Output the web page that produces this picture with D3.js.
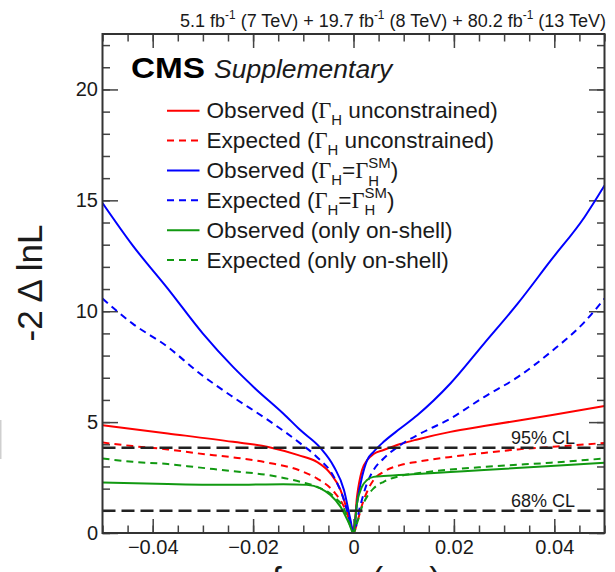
<!DOCTYPE html>
<html><head><meta charset="utf-8">
<script src="https://cdn.jsdelivr.net/npm/d3@7/dist/d3.min.js"></script>
<style>body{margin:0;background:#fff}svg{display:block}text{white-space:pre}</style>
</head><body><svg id="c" width="615" height="572"></svg>
<script>
// ---------- data ----------
const xTickValues = [-0.04, -0.02, 0, 0.02, 0.04];
const xTickLabels = ["\u22120.04", "\u22120.02", "0", "0.02", "0.04"];
const yTickValues = [0, 5, 10, 15, 20];
const yTickLabels = ["0", "5", "10", "15", "20"];
const clLevels = [1, 3.84];
const clLabels = ["68% CL", "95% CL"];

const obsUnconstrained = [[-0.05,4.86],[-0.037,4.49],[-0.024,4.11],[-0.017,3.88],[-0.011,3.51],[-0.0073,3.21],[-0.0046,2.69],[-0.0026,1.94],[-0.0009,0.73],[0,0],
  [0.0007,1.64],[0.0017,2.84],[0.0027,3.28],[0.004,3.56],[0.006,3.74],[0.0093,4.01],[0.0127,4.22],[0.0193,4.56],[0.026,4.82],[0.0393,5.31],[0.05,5.73]];
const expUnconstrained = [[-0.05,4.08],[-0.044,3.92],[-0.037,3.77],[-0.031,3.59],[-0.024,3.41],[-0.017,3.17],[-0.0106,2.81],[-0.0073,2.46],[-0.0039,1.86],[-0.0019,1.19],[-0.0006,0.44],[0,0],
  [0.0007,0.44],[0.0017,1.26],[0.0027,1.86],[0.004,2.39],[0.006,2.76],[0.0093,3.06],[0.0127,3.21],[0.0193,3.43],[0.026,3.61],[0.0327,3.77],[0.0393,3.88],[0.05,4.06]];
const obsSM = [[-0.05,14.88],[-0.044,12.97],[-0.037,11.02],[-0.03,8.99],[-0.024,7.49],[-0.0196,6.52],[-0.014,5.39],[-0.0106,4.64],[-0.0066,3.84],[-0.0039,2.99],[-0.0019,1.94],[-0.0006,0.59],[0,0],
  [0.0007,1.34],[0.0017,2.53],[0.0027,3.28],[0.004,3.66],[0.006,4.11],[0.0093,4.71],[0.0127,5.31],[0.0193,6.74],[0.026,8.54],[0.0327,10.34],[0.0393,12.29],[0.046,14.24],[0.05,15.67]];
const expSM = [[-0.05,10.57],[-0.044,9.44],[-0.037,8.39],[-0.031,7.26],[-0.024,6.13],[-0.017,5.09],[-0.0106,4.04],[-0.0073,3.43],[-0.0039,2.53],[-0.0019,1.49],[-0.0006,0.44],[0,0],
  [0.0013,1.19],[0.0027,2.24],[0.004,2.84],[0.006,3.36],[0.0093,3.96],[0.0127,4.41],[0.0193,5.16],[0.026,6.13],[0.0327,7.03],[0.0393,8.16],[0.046,9.51],[0.05,10.57]];
const obsOnShell = [[-0.05,2.28],[-0.037,2.21],[-0.024,2.17],[-0.014,2.2],[-0.0093,2.17],[-0.0066,2.01],[-0.0046,1.71],[-0.0026,1.19],[-0.0009,0.44],[0,0],
  [0.0007,1.34],[0.0017,2.09],[0.0027,2.39],[0.004,2.53],[0.006,2.57],[0.0127,2.66],[0.0193,2.75],[0.026,2.84],[0.0393,3.02],[0.05,3.17]];
const expOnShell = [[-0.05,3.36],[-0.044,3.21],[-0.037,3.11],[-0.031,2.96],[-0.024,2.79],[-0.017,2.61],[-0.0106,2.31],[-0.0073,2.09],[-0.0039,1.64],[-0.0019,1.1],[-0.0006,0.3],[0,0],
  [0.0007,0.44],[0.0017,1.19],[0.0027,1.64],[0.004,2.01],[0.006,2.31],[0.0093,2.57],[0.0127,2.69],[0.0193,2.86],[0.026,2.98],[0.0393,3.17],[0.05,3.36]];

const seriesData = [obsUnconstrained, expUnconstrained, obsSM, expSM, obsOnShell, expOnShell];
const seriesColors = ["#ff0000", "#ff0000", "#0000ff", "#0000ff", "#119911", "#119911"];
const seriesDashed = [false, true, false, true, false, true];
// legend labels as rich-text segments
const legendLabels = [
  [{t:"Observed ("},{g:"\u0393"},{sub:"H"},{t:" unconstrained)"}],
  [{t:"Expected ("},{g:"\u0393"},{sub:"H"},{t:" unconstrained)"}],
  [{t:"Observed ("},{g:"\u0393"},{sub:"H"},{t:"="},{g:"\u0393"},{ss:["H","SM"]},{t:")"}],
  [{t:"Expected ("},{g:"\u0393"},{sub:"H"},{t:"="},{g:"\u0393"},{ss:["H","SM"]},{t:")"}],
  [{t:"Observed (only on-shell)"}],
  [{t:"Expected (only on-shell)"}]
];
const titleSegments = [{t:"5.1 fb"},{sup:"-1"},{t:" (7 TeV) + 19.7 fb"},{sup:"-1"},{t:" (8 TeV) + 80.2 fb"},{sup:"-1"},{t:" (13 TeV)"}];
const xLabelSegments = [{t:"f"},{sub:"a3"},{t:" cos("},{g:"\u03c6"},{sub:"a3"},{t:")"}];

// ---------- layout ----------
const SANS = "'Liberation Sans', Arial, Helvetica, sans-serif";
const SERIF = "'Liberation Serif', 'Times New Roman', serif";
const TXT = "#1a1a1a";
const L = 102.5, R = 604.5, T = 34, B = 533;

const svg = d3.select("#c");
svg.append("rect").attr("width",615).attr("height",572).attr("fill","#fff");
svg.append("rect").attr("x",0).attr("y",420).attr("width",1.5).attr("height",39).attr("fill","#cfcfcf");

const x = d3.scaleLinear().domain([-0.05, 0.05]).range([L, R]);
const y = d3.scaleLinear().domain([0, 22.5]).range([B, T]);

// rich text helper
function rich(g, x0, y0, segs, size, anchorEnd) {
  const grp = g.append("g");
  let cx = 0;
  const sm = size*0.66;
  function put(txt, dx, dy, fs, fam) {
    return grp.append("text").attr("x",dx).attr("y",dy).attr("xml:space","preserve")
      .style("font-family",fam).style("font-size",fs+"px").attr("fill",TXT).text(txt);
  }
  for (const s of segs) {
    if (s.t !== undefined) { cx += put(s.t, cx, 0, size, SANS).node().getComputedTextLength(); }
    else if (s.g !== undefined) { cx += put(s.g, cx, 0, size, SERIF).node().getComputedTextLength(); }
    else if (s.sub !== undefined) { cx += put(s.sub, cx, size*0.32, sm, SANS).node().getComputedTextLength(); }
    else if (s.sup !== undefined) { cx += put(s.sup, cx, -size*0.42, sm, SANS).node().getComputedTextLength(); }
    else if (s.ss !== undefined) {
      const a = put(s.ss[0], cx, size*0.34, sm, SANS).node().getComputedTextLength();
      const b = put(s.ss[1], cx, -size*0.45, sm, SANS).node().getComputedTextLength();
      cx += Math.max(a, b);
    }
  }
  const ox = anchorEnd ? x0 - cx : x0;
  grp.attr("transform", `translate(${ox},${y0})`);
  return cx;
}

// ---------- axes (ticks inward) ----------
const xMinor = d3.range(-50, 51, 5).map(v => v/1000);
const yMinor = d3.range(0, 23, 1);
const axG = svg.append("g");
function styleAxis(g) {
  g.select(".domain").remove();
  g.selectAll("line").attr("stroke","#444").attr("stroke-width",1.5);
  g.selectAll("text").attr("fill",TXT).style("font-family",SANS).style("font-size","20px");
}
axG.append("g").attr("transform",`translate(0,${B})`)
  .call(d3.axisBottom(x).tickValues(xMinor).tickSize(-7.5).tickFormat("")).call(styleAxis);
axG.append("g").attr("transform",`translate(0,${B})`)
  .call(d3.axisBottom(x).tickValues(xTickValues).tickSize(-14).tickPadding(7)
    .tickFormat((d,i)=>xTickLabels[i])).call(styleAxis);
axG.append("g").attr("transform",`translate(0,${T})`)
  .call(d3.axisTop(x).tickValues(xMinor).tickSize(-7.5).tickFormat("")).call(styleAxis);
axG.append("g").attr("transform",`translate(0,${T})`)
  .call(d3.axisTop(x).tickValues(xTickValues).tickSize(-14).tickFormat("")).call(styleAxis);
axG.append("g").attr("transform",`translate(${L},0)`)
  .call(d3.axisLeft(y).tickValues(yMinor).tickSize(-7.5).tickFormat("")).call(styleAxis);
axG.append("g").attr("transform",`translate(${L},0)`)
  .call(d3.axisLeft(y).tickValues(yTickValues).tickSize(-15.5).tickPadding(4.5)
    .tickFormat((d,i)=>yTickLabels[i])).call(styleAxis);
axG.append("g").attr("transform",`translate(${R},0)`)
  .call(d3.axisRight(y).tickValues(yMinor).tickSize(-7.5).tickFormat("")).call(styleAxis);
axG.append("g").attr("transform",`translate(${R},0)`)
  .call(d3.axisRight(y).tickValues(yTickValues).tickSize(-15.5).tickFormat("")).call(styleAxis);

// ---------- curves ----------
svg.append("clipPath").attr("id","plotclip").append("rect")
  .attr("x",L).attr("y",T).attr("width",R-L).attr("height",B-T);
const line = d3.line().x(d=>x(d[0])).y(d=>y(d[1])).curve(d3.curveMonotoneX);
const curveG = svg.append("g").attr("clip-path","url(#plotclip)");
seriesData.forEach((d,i)=>{
  curveG.append("path").datum(d).attr("d",line).attr("fill","none")
    .attr("stroke",seriesColors[i]).attr("stroke-width",2)
    .attr("stroke-dasharray", seriesDashed[i] ? "7,5" : null);
});

// ---------- CL lines ----------
clLevels.forEach((v,i)=>{
  svg.append("line").attr("x1",L).attr("x2",R).attr("y1",y(v)).attr("y2",y(v))
    .attr("stroke","#222").attr("stroke-width",2.5).attr("stroke-dasharray","13,6");
  svg.append("text").attr("x",511).attr("y",y(v)-4).attr("fill",TXT)
    .style("font-family",SANS).style("font-size","18px").text(clLabels[i]);
});

// ---------- frame ----------
svg.append("rect").attr("x",L).attr("y",T).attr("width",R-L).attr("height",B-T)
  .attr("fill","none").attr("stroke","#333").attr("stroke-width",2);

// ---------- legend ----------
const legG = svg.append("g");
legendLabels.forEach((segs,i)=>{
  const ly = 110.7 + i*29.86;
  legG.append("line").attr("x1",167).attr("x2",199.5).attr("y1",ly).attr("y2",ly)
    .attr("stroke",seriesColors[i]).attr("stroke-width",2)
    .attr("stroke-dasharray", seriesDashed[i] ? "7,5" : null);
  rich(legG, 206.5, ly+7.5, segs, 22.6, false);
});

// ---------- CMS label ----------
svg.append("text").attr("x",131).attr("y",78).attr("fill","#000")
  .style("font-family",SANS).style("font-weight","bold").style("font-size","30px")
  .attr("textLength",74).attr("lengthAdjust","spacingAndGlyphs").text("CMS");
svg.append("text").attr("x",214).attr("y",78).attr("fill",TXT)
  .style("font-family",SANS).style("font-style","italic").style("font-size","26.5px").text("Supplementary");

// ---------- title ----------
rich(svg, 606, 27, titleSegments, 18, true);

// ---------- axis titles ----------
svg.append("text").attr("transform","translate(42,283) rotate(-90)").attr("text-anchor","middle")
  .attr("fill",TXT).style("font-family",SANS).style("font-size","35px").text("-2 \u0394 lnL");
rich(svg, 272, 592, xLabelSegments, 35, false);
</script></body></html>
